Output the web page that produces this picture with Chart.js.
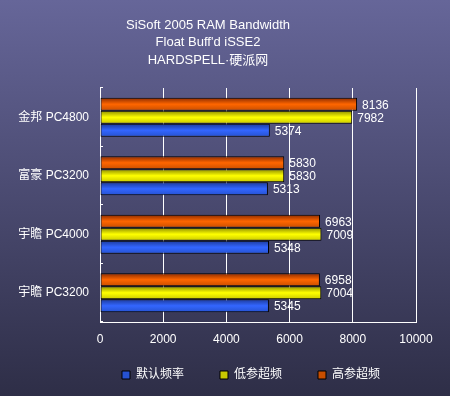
<!DOCTYPE html>
<html>
<head>
<meta charset="utf-8">
<script src="https://cdn.jsdelivr.net/npm/chart.js@4"></script>
<style>
  html, body { margin: 0; padding: 0; background: #4a4a70; }
  #wrap { width: 450px; height: 396px; }
</style>
</head>
<body>
<div id="wrap"><canvas id="ramChart" width="450" height="396"></canvas></div>
<script>
const categories = ["金邦 PC4800", "富豪 PC3200", "宇瞻 PC4000", "宇瞻 PC3200"];
const seriesNames = ["高参超频", "低参超频", "默认频率"];
const highOc = [8136, 5830, 6963, 6958];
const lowOc = [7982, 5830, 7009, 7004];
const stock = [5374, 5313, 5348, 5345];
const titleLines = ["SiSoft 2005 RAM Bandwidth", "Float Buff'd iSSE2", "HARDSPELL·硬派网"];

const FONT = "'Liberation Sans', Arial, 'Noto Sans CJK SC', sans-serif";

// top / middle / bottom shades of each bar, gives the tube look
const orangeShades = ["#8a2a00", "#ff6600", "#c84e00"];
const yellowShades = ["#8c8c00", "#ffff00", "#c8c800"];
const blueShades = ["#1c3a9a", "#3366ff", "#2652d0"];

function barFill(shades) {
  return function (ctx) {
    const el = ctx.element;
    if (!el || el.y === undefined || !el.height) return shades[1];
    const top = el.y - el.height / 2;
    const g = ctx.chart.ctx.createLinearGradient(0, top, 0, top + el.height);
    g.addColorStop(0, shades[0]);
    g.addColorStop(0.5, shades[1]);
    g.addColorStop(1, shades[2]);
    return g;
  };
}

const bgPlugin = {
  id: "bgGradient",
  beforeDraw(chart) {
    const c = chart.ctx;
    const g = c.createLinearGradient(0, 0, 0, chart.height);
    g.addColorStop(0, "#666699");
    g.addColorStop(1, "#2e2e47");
    c.save();
    c.fillStyle = g;
    c.fillRect(0, 0, chart.width, chart.height);
    c.restore();
  }
};

const valueLabels = {
  id: "valueLabels",
  afterDatasetsDraw(chart) {
    const c = chart.ctx;
    c.save();
    c.font = "12px " + FONT;
    c.fillStyle = "#ffffff";
    c.textAlign = "left";
    c.textBaseline = "middle";
    chart.data.datasets.forEach((ds, i) => {
      chart.getDatasetMeta(i).data.forEach((bar, j) => {
        c.fillText(ds.data[j], bar.x + 5, bar.y + 1);
      });
    });
    c.restore();
  }
};

const ramChart = new Chart(document.getElementById("ramChart"), {
  type: "bar",
  data: {
    labels: categories,
    datasets: [
      { label: seriesNames[0], data: highOc, backgroundColor: barFill(orangeShades) },
      { label: seriesNames[1], data: lowOc, backgroundColor: barFill(yellowShades) },
      { label: seriesNames[2], data: stock, backgroundColor: barFill(blueShades) }
    ]
  },
  options: {
    indexAxis: "y",
    responsive: false,
    animation: false,
    layout: { padding: { left: 0, right: 34, top: 0, bottom: 5 } },
    datasets: {
      bar: {
        borderColor: "#000000",
        borderWidth: 1,
        borderSkipped: false,
        categoryPercentage: 0.667,
        barPercentage: 1
      }
    },
    scales: {
      x: {
        min: 0,
        max: 10000,
        ticks: {
          stepSize: 2000,
          color: "#ffffff",
          // mirror keeps the labels from being clipped to the slim axis box
          mirror: true,
          padding: -25,
          font: { family: FONT, size: 12 },
          callback: (v) => String(v)
        },
        grid: { color: "#ffffff", lineWidth: 1, drawTicks: false },
        border: { color: "#ffffff", width: 1 },
        afterFit(scale) { scale.height = 11; }
      },
      y: {
        ticks: {
          color: "#ffffff",
          padding: 14,
          font: { family: FONT, size: 12 }
        },
        grid: { drawOnChartArea: false, color: "#ffffff", tickLength: -3 },
        border: { color: "#ffffff", width: 1 },
        afterFit(scale) { scale.width = 100; }
      }
    },
    plugins: {
      title: {
        display: true,
        text: titleLines,
        color: "#ffffff",
        font: { family: FONT, size: 13, weight: "normal", lineHeight: 1.346 },
        padding: { top: 16.5, bottom: 19 }
      },
      legend: {
        position: "bottom",
        align: "end",
        reverse: true,
        labels: {
          color: "#ffffff",
          boxWidth: 8,
          boxHeight: 8,
          padding: 36,
          font: { family: FONT, size: 12 }
        }
      },
      tooltip: { enabled: false }
    }
  },
  plugins: [bgPlugin, valueLabels]
});

// second pass so the bar gradients know where each bar sits
ramChart.update();
</script>
</body>
</html>
